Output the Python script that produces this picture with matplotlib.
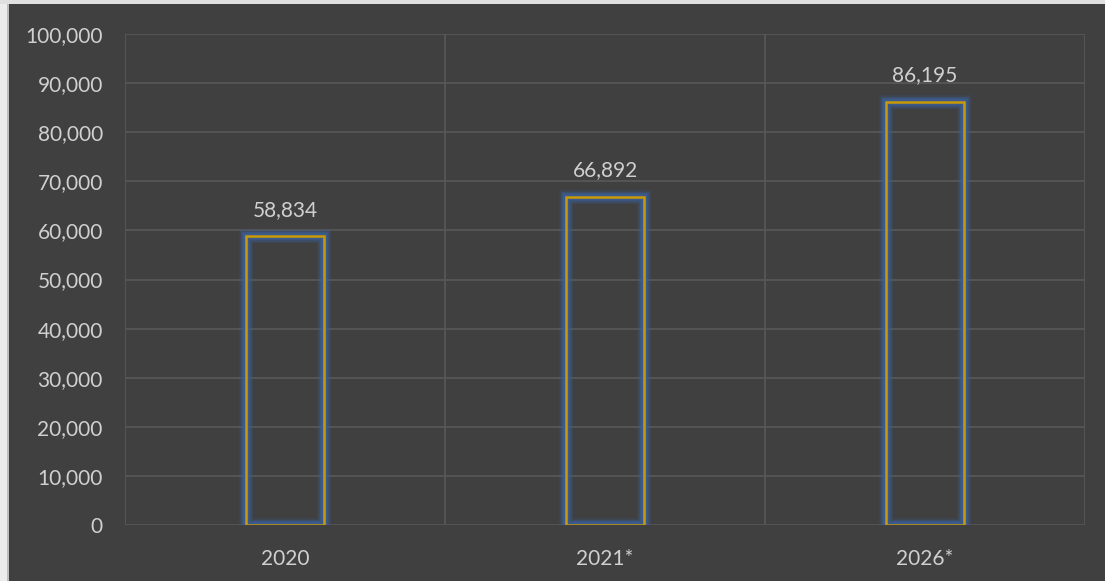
import matplotlib
matplotlib.use("Agg")
import matplotlib.pyplot as plt
from matplotlib.patches import Rectangle

categories = ["2020", "2021*", "2026*"]
values = [58834, 66892, 86195]
yticks = list(range(0, 100001, 10000))

BG = "#404040"
GRID = "#575757"
TXT = "#d0d0d0"
plt.rcParams['font.family'] = ['Lato', 'DejaVu Sans']

W, H = 1105, 581
fig = plt.figure(figsize=(W / 100, H / 100), dpi=100, facecolor=BG)
fig.patches.append(Rectangle((0, 0), 7 / W, 1, transform=fig.transFigure,
                             facecolor="#ececec", edgecolor="none", zorder=0))
fig.patches.append(Rectangle((7 / W, 0), 1.5 / W, 1, transform=fig.transFigure,
                             facecolor="#bdbdbd", edgecolor="none", zorder=0))
fig.patches.append(Rectangle((0, 1 - 4 / H), 1, 4 / H, transform=fig.transFigure,
                             facecolor="#e0e0e0", edgecolor="none", zorder=0))

ax = fig.add_axes([125 / W, 56 / H, 960 / W, 491 / H])
ax.set_facecolor("none")

x = list(range(len(categories)))
ax.set_xlim(-0.5, len(categories) - 0.5)
ax.set_ylim(0, 100000)

for t in yticks:
    ax.axhline(t, color=GRID, lw=1.3, zorder=1)
for b in [i - 0.5 for i in range(len(categories) + 1)]:
    ax.axvline(b, color=GRID, lw=1.3, zorder=1)

w = 0.245
for lw, a in [(10, 0.2), (8, 0.3), (6, 0.45), (4, 0.6)]:
    ax.bar(x, values, width=w, color="none", edgecolor="#3b5f99", linewidth=lw,
           alpha=a, zorder=2)
ax.bar(x, values, width=w, color="none", edgecolor="#c99a06", linewidth=1.8, zorder=3)

for xi, v in zip(x, values):
    ax.annotate(f"{v:,}", (xi, v), xytext=(0, 19), textcoords="offset points",
                ha="center", va="center", color=TXT, fontsize=15)

ax.set_yticks(yticks)
ax.set_yticklabels([f"{t:,}" for t in yticks])
ax.set_xticks(x)
ax.set_xticklabels(categories)
ax.tick_params(axis="both", length=0, colors=TXT, labelsize=15)
ax.tick_params(axis="y", pad=16)
ax.tick_params(axis="x", pad=17)
for s in ax.spines.values():
    s.set_visible(False)

fig.savefig("out.png", dpi=100, facecolor=BG)
